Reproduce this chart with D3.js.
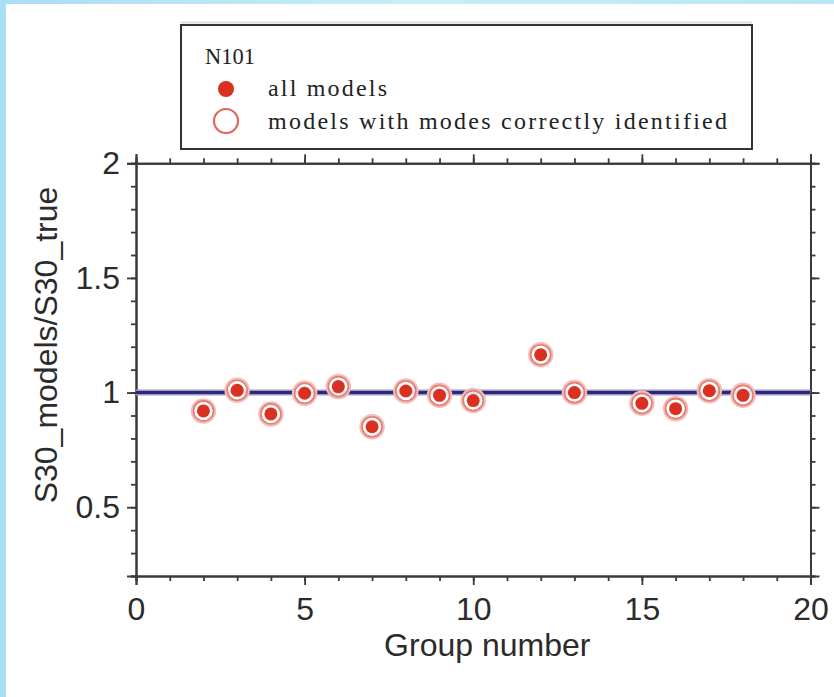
<!DOCTYPE html>
<html>
<head>
<meta charset="utf-8">
<script src="https://cdn.jsdelivr.net/npm/d3@7"></script>
<style>
  html, body { margin: 0; padding: 0; background: #fff; }
  svg { display: block; }
</style>
</head>
<body>
<svg id="chart" width="834" height="697"></svg>
<script>
// Ratio of S30 from the models to the true S30, per group (case N101)
const groups       = [2, 3, 4, 5, 6, 7, 8, 9, 10, 12, 13, 15, 16, 17, 18];
const allModels    = [0.92, 1.01, 0.907, 0.997, 1.026, 0.851, 1.007, 0.988, 0.965, 1.165, 1.0, 0.953, 0.93, 1.008, 0.988];
const correctModes = [0.92, 1.01, 0.907, 0.997, 1.026, 0.851, 1.007, 0.988, 0.965, 1.165, 1.0, 0.953, 0.93, 1.008, 0.988];
const referenceValue = 1;

const xMajorTicks = [0, 5, 10, 15, 20];
const yMajorTicks = [0.5, 1, 1.5, 2];
const xTitle = "Group number";
const yTitle = "S30_models/S30_true";
const legendTitle = "N101";
const legendLabels = ["all models", "models with modes correctly identified"];

const svg = d3.select("#chart");
const W = 834, H = 697;

// soft blue frame along the top and left edges
const defs = svg.append("defs");
const gTop = defs.append("linearGradient").attr("id", "topStrip").attr("x1", 0).attr("x2", 1);
gTop.append("stop").attr("offset", "0%").attr("stop-color", "#a9def5");
gTop.append("stop").attr("offset", "50%").attr("stop-color", "#c8eef6");
gTop.append("stop").attr("offset", "100%").attr("stop-color", "#b9e6f6");
svg.append("rect").attr("x", 0).attr("y", 0).attr("width", W).attr("height", 4).attr("fill", "url(#topStrip)");
svg.append("rect").attr("x", 0).attr("y", 0).attr("width", 6).attr("height", H).attr("fill", "#a8e0f6");

const x = d3.scaleLinear().domain([0, 20]).range([136, 810.5]);
const y = d3.scaleLinear().domain([0.2, 2]).range([576, 163.3]);

const axisColor = "#3a3a3a";
const tickFont = "'Liberation Sans', Arial, Helvetica, sans-serif";

function styleAxis(g) {
  g.selectAll("path.domain").attr("stroke", axisColor).attr("stroke-width", 2);
  g.selectAll(".tick line").attr("stroke", axisColor).attr("stroke-width", 1.8);
  g.selectAll(".tick text").attr("fill", "#2b2b2b").style("font-family", tickFont).style("font-size", "32px");
}

const xMinor = d3.range(0, 21);
const yMinor = d3.range(2, 21).map(v => +(v / 10).toFixed(1));

// bottom axis
svg.append("g").attr("transform", `translate(0,${y(0.2)})`)
  .call(d3.axisBottom(x).tickValues(xMinor).tickSize(5).tickFormat(""))
  .call(styleAxis);
svg.append("g").attr("transform", `translate(0,${y(0.2)})`)
  .call(d3.axisBottom(x).tickValues(xMajorTicks).tickSize(9).tickPadding(12).tickFormat(d3.format("d")))
  .call(styleAxis);
// top axis
svg.append("g").attr("transform", `translate(0,${y(2)})`)
  .call(d3.axisTop(x).tickValues(xMinor).tickSize(5).tickFormat(""))
  .call(styleAxis);
svg.append("g").attr("transform", `translate(0,${y(2)})`)
  .call(d3.axisTop(x).tickValues(xMajorTicks).tickSize(9).tickFormat(""))
  .call(styleAxis);
// left axis
svg.append("g").attr("transform", `translate(${x(0)},0)`)
  .call(d3.axisLeft(y).tickValues(yMinor).tickSize(5).tickFormat(""))
  .call(styleAxis);
svg.append("g").attr("transform", `translate(${x(0)},0)`)
  .call(d3.axisLeft(y).tickValues(yMajorTicks).tickSize(9).tickPadding(7).tickFormat(d => String(d)))
  .call(styleAxis);
// right axis
svg.append("g").attr("transform", `translate(${x(20)},0)`)
  .call(d3.axisRight(y).tickValues(yMinor).tickSize(5).tickFormat(""))
  .call(styleAxis);
svg.append("g").attr("transform", `translate(${x(20)},0)`)
  .call(d3.axisRight(y).tickValues(yMajorTicks).tickSize(9).tickFormat(""))
  .call(styleAxis);

// reference line at ratio = 1
svg.append("line")
  .attr("x1", x(0)).attr("x2", x(20))
  .attr("y1", y(referenceValue)).attr("y2", y(referenceValue))
  .attr("stroke", "#9b98c9").attr("stroke-width", 6);
svg.append("line")
  .attr("x1", x(0)).attr("x2", x(20))
  .attr("y1", y(referenceValue)).attr("y2", y(referenceValue))
  .attr("stroke", "#2c2777").attr("stroke-width", 3);

// open circles: models with modes correctly identified
const ringData = groups.map((g, i) => ({ g, v: correctModes[i] }));
const rings = svg.append("g");
rings.selectAll("circle.halo")
  .data(ringData)
  .join("circle").attr("class", "halo")
  .attr("cx", d => x(d.g)).attr("cy", d => y(d.v)).attr("r", 11.5)
  .attr("fill", "#fff").attr("fill-opacity", 0.85)
  .attr("stroke", "#f4bdb8").attr("stroke-width", 2.5);
rings.selectAll("circle.ring")
  .data(ringData)
  .join("circle").attr("class", "ring")
  .attr("cx", d => x(d.g)).attr("cy", d => y(d.v)).attr("r", 10)
  .attr("fill", "none")
  .attr("stroke", "#e77a72").attr("stroke-width", 1.6);

// filled dots: all models
svg.append("g").selectAll("circle")
  .data(groups.map((g, i) => ({ g, v: allModels[i] })))
  .join("circle")
  .attr("cx", d => x(d.g)).attr("cy", d => y(d.v)).attr("r", 6.5)
  .attr("fill", "#d9301f");

// axis titles
svg.append("text")
  .attr("x", (x(0) + x(20)) / 2 + 14).attr("y", 656)
  .attr("text-anchor", "middle")
  .attr("fill", "#2b2b2b")
  .style("font-family", tickFont).style("font-size", "32px")
  .text(xTitle);
svg.append("text")
  .attr("transform", `translate(57,${345}) rotate(-90)`)
  .attr("text-anchor", "middle")
  .attr("fill", "#2b2b2b")
  .style("font-family", tickFont).style("font-size", "32px")
  .text(yTitle);

// legend
const legend = svg.append("g");
legend.append("rect")
  .attr("x", 181).attr("y", 25).attr("width", 571).attr("height", 124)
  .attr("fill", "#fff").attr("stroke", "#333").attr("stroke-width", 2);
legend.append("line")
  .attr("x1", 181).attr("x2", 752).attr("y1", 22.5).attr("y2", 22.5)
  .attr("stroke", "#ddd").attr("stroke-width", 2);
const serif = "'Liberation Serif', 'Times New Roman', Times, serif";
legend.append("text")
  .attr("x", 205).attr("y", 64)
  .attr("fill", "#222")
  .style("font-family", serif).style("font-size", "24px")
  .attr("textLength", 50).attr("lengthAdjust", "spacingAndGlyphs")
  .text(legendTitle);
legend.append("circle").attr("cx", 226).attr("cy", 89).attr("r", 8).attr("fill", "#d9301f");
legend.append("circle").attr("cx", 226).attr("cy", 121).attr("r", 12)
  .attr("fill", "#fff").attr("stroke", "#e4655c").attr("stroke-width", 2.2);
legend.append("text")
  .attr("x", 268).attr("y", 96)
  .attr("fill", "#222")
  .style("font-family", serif).style("font-size", "24px")
  .attr("textLength", 119).attr("lengthAdjust", "spacing")
  .text(legendLabels[0]);
legend.append("text")
  .attr("x", 268).attr("y", 129)
  .attr("fill", "#222")
  .style("font-family", serif).style("font-size", "24px")
  .attr("textLength", 459).attr("lengthAdjust", "spacing")
  .text(legendLabels[1]);
</script>
</body>
</html>
